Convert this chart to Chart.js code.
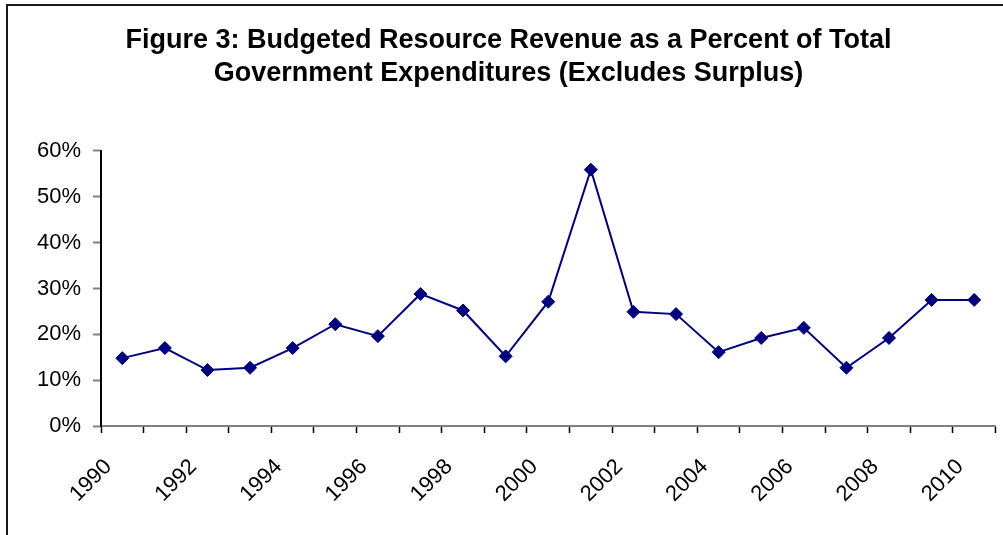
<!DOCTYPE html>
<html>
<head>
<meta charset="utf-8">
<script src="https://cdn.jsdelivr.net/npm/chart.js@4.4.1/dist/chart.umd.min.js"></script>
<style>
  html, body { margin: 0; padding: 0; background: #fff; }
  #wrap { position: relative; width: 1003px; height: 535px; }
</style>
</head>
<body>
<div id="wrap"><canvas id="revenueChart" width="1003" height="535"></canvas></div>
<script>
const years = ["1990","1991","1992","1993","1994","1995","1996","1997","1998","1999","2000",
               "2001","2002","2003","2004","2005","2006","2007","2008","2009","2010"];
const revenueShare = [14.8, 17.0, 12.2, 12.7, 17.0, 22.2, 19.6, 28.8, 25.2, 15.2, 27.1,
                      55.9, 24.9, 24.4, 16.1, 19.2, 21.4, 12.7, 19.2, 27.5, 27.5];
const titleLines = ["Figure 3: Budgeted Resource Revenue as a Percent of Total",
                    "Government Expenditures (Excludes Surplus)"];

const font = "'Liberation Sans', Arial, sans-serif";

// outer frame: only the top and left edges show
const framePlugin = {
    id: "frame",
    beforeDraw(chart){
        const c = chart.ctx;
        c.save();
        c.strokeStyle = "#1a1a1a";
        c.lineWidth = 2;
        c.beginPath();
        c.moveTo(7, 535);
        c.lineTo(7, 5);
        c.lineTo(1003, 5);
        c.stroke();
        c.restore();
    }
};

new Chart(document.getElementById("revenueChart"), {
    type: "line",
    data: {
        labels: years,
        datasets: [{
            data: revenueShare,
            borderColor: "#000080",
            backgroundColor: "#000080",
            borderWidth: 2,
            tension: 0,
            pointStyle: "rectRot",
            pointRadius: 6.5,
            pointBorderWidth: 1,
            pointBackgroundColor: "#000080",
            pointBorderColor: "#000080"
        }]
    },
    options: {
        responsive: false,
        animation: false,
        layout: { padding: { left: 20, right: 6, top: 0, bottom: 0 } },
        plugins: {
            legend: { display: false },
            tooltip: { enabled: false },
            title: {
                display: true,
                text: titleLines,
                color: "#000",
                font: { family: font, size: 27, weight: "bold", lineHeight: 1.22 },
                padding: { top: 24, bottom: 61 }
            }
        },
        scales: {
            x: {
                offset: true,
                grid: { offset: true, drawOnChartArea: false, tickLength: 7, color: "#000", tickWidth: 1.5 },
                border: { color: "#808080", width: 2 },
                ticks: {
                    autoSkip: false,
                    minRotation: 45,
                    maxRotation: 45,
                    padding: 21,
                    labelOffset: -14,
                    color: "#000",
                    font: { family: font, size: 22 },
                    callback: function(v, i){ return i % 2 === 0 ? this.getLabelForValue(v) : ""; }
                },
                afterFit(scale){
                    scale.height = 109;
                    scale.paddingLeft = 0;
                    scale.paddingRight = 0;
                }
            },
            y: {
                min: 0,
                max: 60,
                grid: { drawOnChartArea: false, tickLength: 8, color: "#808080", tickWidth: 2 },
                border: { color: "#000", width: 2 },
                ticks: {
                    stepSize: 10,
                    padding: 12,
                    color: "#000",
                    font: { family: font, size: 22 },
                    callback: v => v + "%"
                },
                afterFit(scale){ scale.width = 81; }
            }
        }
    },
    plugins: [framePlugin]
});
</script>
</body>
</html>
